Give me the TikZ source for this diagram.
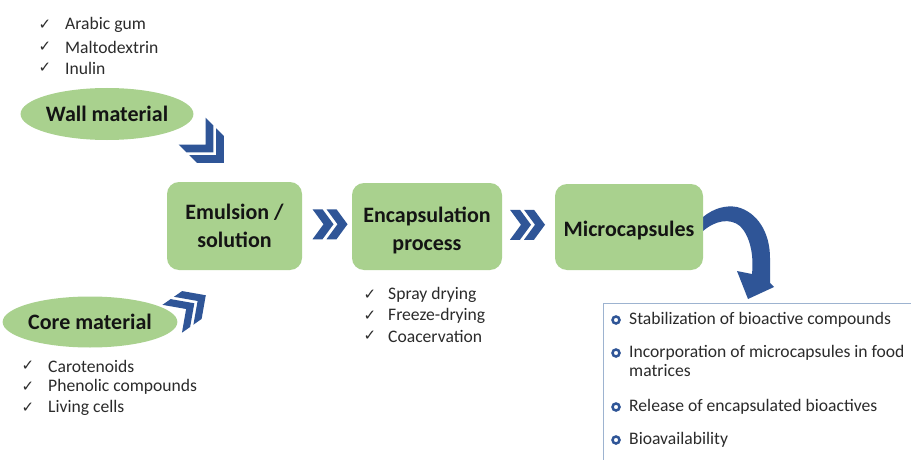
\documentclass[tikz,border=0pt]{standalone}
\usepackage{fontspec}
\setmainfont{Carlito}
\newfontfamily\symfont{DejaVu Sans}
\usetikzlibrary{calc,shapes.geometric}
\definecolor{boxgreen}{HTML}{A9D18E}
\definecolor{chevblue}{HTML}{2F5597}
\definecolor{txtgray}{HTML}{2B2B2B}
\definecolor{labelblack}{HTML}{141414}
\definecolor{listborder}{HTML}{9DB3D0}
% double chevron: #1 centre coordinate, #2 angle, #3 half height, #4 depth, #5 thickness, #6 offset
\newcommand\dchev[6]{%
  \begin{scope}[shift={(#1)},rotate=#2,xshift={((#4+#5-#6)/2)*1pt}]
    \foreach \o in {0,#6}{%
      \fill[chevblue] (\o,0) -- (\o-#4,-#3) -- (\o-#4-#5,-#3) -- (\o-#5,0)
        -- (\o-#4-#5,#3) -- (\o-#4,#3) -- cycle;}
  \end{scope}}
\begin{document}
\begin{tikzpicture}[x=1pt,y=-1pt,
  stagebox/.style={fill=boxgreen, rounded corners=12pt, align=center, inner sep=0pt,
    font=\fontsize{22}{27.5}\selectfont\bfseries, text=labelblack},
  matell/.style={ellipse, fill=boxgreen, inner sep=0pt,
    font=\fontsize{22}{27}\selectfont\bfseries, text=labelblack},
  checkmark/.style={font=\symfont\fontsize{15}{17}\selectfont, text=txtgray, inner sep=0pt},
  listtext/.style={anchor=west, font=\fontsize{17.6}{21}\selectfont, text=txtgray, inner sep=0pt},
  useitem/.style={anchor=base west, align=left, font=\fontsize{17.6}{19}\selectfont, text=txtgray, inner sep=0pt},
  bulletring/.style={circle, draw=chevblue, line width=2.5pt, fill=white, minimum size=7pt, inner sep=0pt},
]
\useasboundingbox (0,0) rectangle (911,460);
\fill[white] (0,0) rectangle (911,460);

% curved arrow from Microcapsules to the list
\fill[chevblue] (703,217) .. controls (714,208) and (726,205) .. (737,207)
  .. controls (757,212) and (770,232) .. (770,258) -- (770,283) -- (774,287)
  -- (748,299) -- (737,271) -- (752,274)
  .. controls (754,255) and (750,236) .. (740,226)
  .. controls (730,218) and (716,220) .. (703,231) -- cycle;

% materials
\node[matell, minimum width=169pt, minimum height=52pt] (wall) at (107,114) {Wall material};
\node[matell, minimum width=160pt, minimum height=51pt] (core) at (90,322) {Core material};

% stages
\node[stagebox, minimum width=135pt, minimum height=88pt] (emul) at (234.5,226) {Emulsion /\\solution};
\node[stagebox, minimum width=150pt, minimum height=87pt, text height=52pt, text depth=5pt] (enc) at (427,226.5) {Encapsulation\\process};
\node[stagebox, minimum width=148pt, minimum height=86pt, text height=22pt, text depth=4pt] (micro) at (629,227) {Microcapsules};

% chevrons
\coordinate (cw) at (208,147);
\coordinate (cc) at (189,307);
\coordinate (c1) at ($(emul.east)!0.5!(enc.west)+(3,-2)$);
\coordinate (c2) at ($(enc.east)!0.5!(micro.west)+(-1,-2)$);
\dchev{cw}{-45}{19}{19}{11}{15}
\dchev{cc}{35}{17}{17}{10}{14}
\dchev{c1}{0}{15}{11}{10}{14}
\dchev{c2}{0}{15}{11}{10}{14}

% wall material list
\node[checkmark] (w1c) at (45,25) {✓};
\node[checkmark] (w2c) at (45,47) {✓};
\node[checkmark] (w3c) at (45,68) {✓};
\node[listtext] (w1) at (65,25) {Arabic gum};
\node[listtext] (w2) at (65,47) {Maltodextrin};
\node[listtext] (w3) at (65,68) {Inulin};

% core material list
\node[checkmark] (k1c) at (28,366) {✓};
\node[checkmark] (k2c) at (28,387) {✓};
\node[checkmark] (k3c) at (28,408) {✓};
\node[listtext] (k1) at (48,366) {Carotenoids};
\node[listtext] (k2) at (48,387) {Phenolic compounds};
\node[listtext] (k3) at (48,408) {Living cells};

% encapsulation list
\node[checkmark] (e1c) at (370,295) {✓};
\node[checkmark] (e2c) at (370,316) {✓};
\node[checkmark] (e3c) at (370,336) {✓};
\node[listtext] (e1) at (388,295) {Spray drying};
\node[listtext] (e2) at (388,316) {Freeze-drying};
\node[listtext] (e3) at (388,336) {Coacervation};

% applications box
\node[draw=listborder, line width=1.2pt, anchor=north west, minimum width=340pt,
  minimum height=190pt, inner sep=0pt] (uses) at (603,303) {};
\node[bulletring] (b1) at (616,320) {};
\node[bulletring] (b2) at (616,353) {};
\node[bulletring] (b3) at (616,407) {};
\node[bulletring] (b4) at (616,440) {};
\node[useitem] (u1) at (629,324.5) {Stabilization of bioactive compounds};
\node[useitem] (u2) at (629,376.5) {Incorporation of microcapsules in food\\matrices};
\node[useitem] (u3) at (629,411.5) {Release of encapsulated bioactives};
\node[useitem] (u4) at (629,444.5) {Bioavailability};
\end{tikzpicture}
\end{document}
